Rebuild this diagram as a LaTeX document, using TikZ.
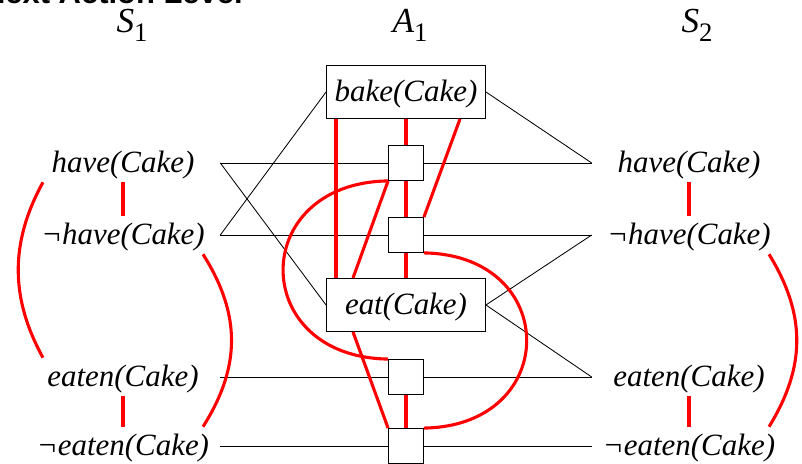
\documentclass[tikz,border=0pt]{standalone}
\usepackage{fontspec}
\setmainfont{Liberation Serif}
\setsansfont{Liberation Sans}
\usepackage{xcolor}
\usepackage{tikz}
\usetikzlibrary{positioning}
\definecolor{mxRed}{RGB}{255,0,0}
\newcommand{\lvl}[2]{\textit{#1}\raisebox{-6pt}{\fontsize{19}{22}\selectfont #2}}

\begin{document}
\begin{tikzpicture}[
    x=0.025cm, y=-0.025cm,
    prop/.style={font=\fontsize{22}{26}\selectfont\itshape, minimum width=4.85cm,
                 minimum height=0.95cm, inner sep=0pt, text height=16pt, text depth=2pt},
    actbox/.style={prop, draw, line width=0.6pt, fill=white, minimum width=3.975cm,
                   minimum height=1.325cm},
    noop/.style={draw, line width=0.6pt, fill=white, minimum size=0.875cm, inner sep=0pt},
    link/.style={line width=0.6pt},
    mutex/.style={mxRed, line width=2.2pt}
  ]
  \useasboundingbox (0,0) rectangle (802,464);
  \clip (0,0) rectangle (802,464);
  \node[font=\fontsize{22}{26}\selectfont\bfseries\sffamily, anchor=base east, inner sep=0pt]
    (title) at (243,4) {Next Action Level};
  % level headings
  \node[font=\fontsize{25}{30}\selectfont, anchor=base] (s1) at (132,33) {\lvl{S}{1}};
  \node[font=\fontsize{25}{30}\selectfont, anchor=base] (a1) at (410,33) {\lvl{A}{1}};
  \node[font=\fontsize{25}{30}\selectfont, anchor=base] (s2) at (697,33) {\lvl{S}{2}};
  % propositions and their no-ops
  \foreach \f/\y/\t in {h/163/have(Cake), nh/235/¬have(Cake), e/377/eaten(Cake), ne/446/¬eaten(Cake)} {
    \node[prop] (l\f) at (123,\y) {\t};
    \node[prop] (r\f) at (689,\y) {\t};
    \node[noop] (p\f) at (406,\y) {};
    \draw[link] (l\f.east) -- (p\f.west) (p\f.east) -- (r\f.west);
  }
  \node[actbox] (bake) at (406,92) {bake(Cake)};
  \node[actbox] (eat) at (406,305) {eat(Cake)};
  % preconditions and effects
  \draw[link] (lh.east) -- (eat.west);
  \draw[link] (lnh.east) -- (bake.west);
  \draw[link] (bake.east) -- (rh.west);
  \draw[link] (eat.east) -- (rnh.west);
  \draw[link] (eat.east) -- (re.west);
  % mutexes in the state levels
  \draw[mutex] (lh.south) -- (lnh.north);
  \draw[mutex] (le.south) -- (lne.north);
  \draw[mutex] (rh.south) -- (rnh.north);
  \draw[mutex] (re.south) -- (rne.north);
  \draw[mutex] ([xshift=-2cm]lh.south) .. controls +(-33,60) and +(-33,-60) .. ([xshift=-2cm]le.north);
  \draw[mutex] ([xshift=2cm]lnh.south) .. controls +(38,60) and +(38,-60) .. ([xshift=2cm]lne.north);
  \draw[mutex] ([xshift=2cm]rnh.south) .. controls +(37,60) and +(37,-60) .. ([xshift=2cm]rne.north);
  % mutexes in the action level
  \draw[mutex] ([xshift=-1.75cm]bake.south) -- ([xshift=-1.75cm]eat.north);
  \draw[mutex] (bake.south) -- (ph.north);
  \draw[mutex] (ph.south) -- (pnh.north);
  \draw[mutex] (pnh.south) -- (eat.north);
  \draw[mutex] ([xshift=1.35cm]bake.south) -- (pnh.north east);
  \draw[mutex] (ph.south west) -- ([xshift=-1.325cm]eat.north);
  \draw[mutex] (ph.south west) .. controls +(-140,2) and +(-140,-2) .. (pe.north west);
  \draw[mutex] (pnh.south east) .. controls +(137,2) and +(137,-2) .. (pne.north east);
  \draw[mutex] ([xshift=-1.325cm]eat.south) -- (pne.north west);
  \draw[mutex] (pe.south) -- (pne.north);
\end{tikzpicture}
\end{document}
